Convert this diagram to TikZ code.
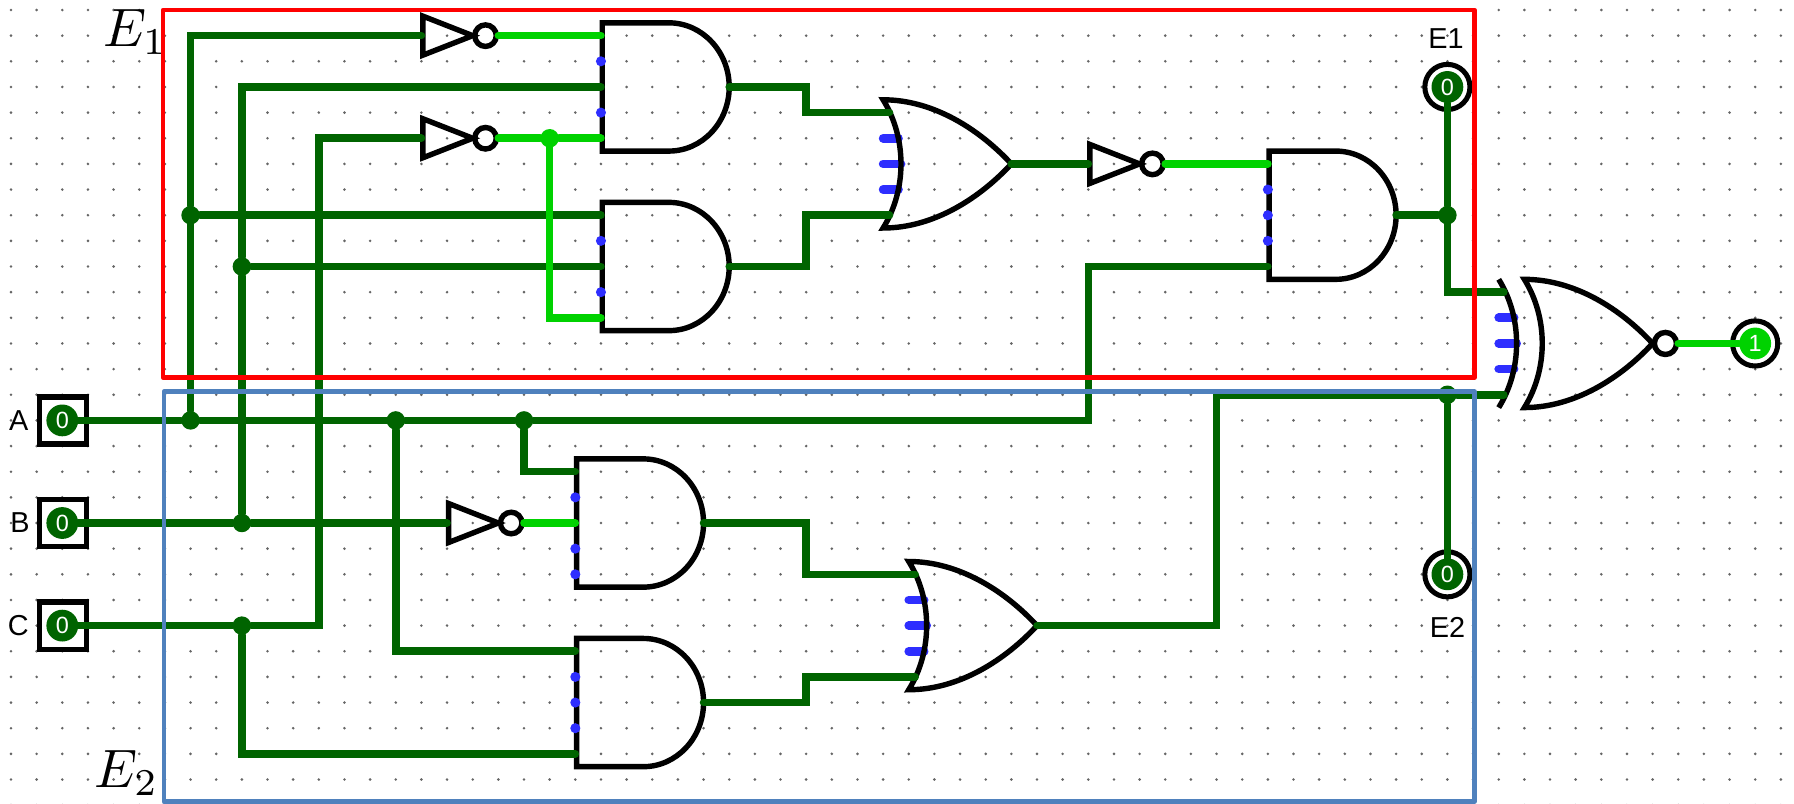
\documentclass[tikz,border=0pt]{standalone}
\usepackage{fontspec}
\setsansfont{Liberation Sans}
\usepackage{tikz}

\definecolor{wire_off}{HTML}{006400}
\definecolor{wire_on}{HTML}{00D200}
\definecolor{pin_blue}{HTML}{2E2EFF}
\definecolor{box_blue}{HTML}{4F81BD}

\begin{document}
\begin{tikzpicture}[x=0.5cm,y=-0.5cm,
    wire_dark/.style={wire_off,line width=4.2pt,line cap=round},
    wire_light/.style={wire_on,line width=4.2pt,line cap=round},
    outline/.style={black,line width=3pt},
    stub/.style={pin_blue,line width=4.8pt,line cap=round},
    junction_dark/.style={circle,fill=wire_off,inner sep=0pt,minimum size=0.36cm},
    junction_light/.style={circle,fill=wire_on,inner sep=0pt,minimum size=0.36cm},
    pin_box/.style={rectangle,draw,line width=3pt,inner sep=0pt,minimum size=0.92cm},
    pin_ring/.style={circle,draw,line width=2.8pt,inner sep=0pt,minimum size=0.88cm},
    pin_low/.style={circle,fill=wire_off,text=white,inner sep=0pt,minimum size=0.62cm,font=\sffamily\fontsize{13}{13}\selectfont},
    pin_high/.style={pin_low,fill=wire_on},
    pin_label/.style={inner sep=0pt,font=\sffamily\fontsize{16}{16}\selectfont},
    math_label/.style={inner sep=0pt,scale=3},
    and_gate/.pic={
        \draw[outline] (0.05,-2.5) -- (2.65,-2.5) .. controls (3.95,-2.5) and (5,-1.375) .. (5,0)
            .. controls (5,1.375) and (3.95,2.5) .. (2.65,2.5) -- (0.05,2.5) -- cycle;
        \coordinate (-a) at (0,-2);
        \coordinate (-b) at (0,-1);
        \coordinate (-c) at (0,0);
        \coordinate (-d) at (0,1);
        \coordinate (-e) at (0,2);
        \coordinate (-out) at (5,0);
    },
    or_gate/.pic={
        \draw[stub] (0,-1) -- (0.6,-1);
        \draw[stub] (0,0) -- (0.7,0);
        \draw[stub] (0,1) -- (0.6,1);
        \draw[outline] (0,-2.5) .. controls (0.93,-1) and (0.93,1) .. (0,2.5)
            .. controls (2,2.5) and (3.8,1.3) .. (5,0)
            .. controls (3.8,-1.3) and (2,-2.5) .. (0,-2.5) -- cycle;
        \coordinate (-a) at (0.25,-2);
        \coordinate (-e) at (0.25,2);
        \coordinate (-out) at (5,0);
    },
    xnor_gate/.pic={
        \draw[stub] (0,-1) -- (0.6,-1);
        \draw[stub] (0,0) -- (0.7,0);
        \draw[stub] (0,1) -- (0.6,1);
        \draw[outline] (0,-2.5) .. controls (0.93,-1) and (0.93,1) .. (0,2.5);
        \draw[outline] (1,-2.5) .. controls (1.93,-1) and (1.93,1) .. (1,2.5)
            .. controls (3,2.5) and (4.8,1.3) .. (6,0)
            .. controls (4.8,-1.3) and (3,-2.5) .. (1,-2.5) -- cycle;
        \draw[outline] (6.5,0) circle[radius=0.43];
        \coordinate (-a) at (0.2,-2);
        \coordinate (-e) at (0.2,2);
        \coordinate (-out) at (7,0);
    },
    not_gate/.pic={
        \draw[outline] (0.06,-0.76) -- (2,0) -- (0.06,0.76) -- cycle;
        \draw[outline] (2.5,0) circle[radius=0.42];
        \coordinate (-in) at (0,0);
        \coordinate (-out) at (3,0);
    }]
    \useasboundingbox (-0.429,-0.39) rectangle (69.513,30.955);

    \foreach \c in {0,...,69}
        \foreach \r in {0,...,31}
            \fill[black!60] (\c,\r) circle[radius=0.8pt];

    \pic (and1) at (23,3) {and_gate};
    \pic (and2) at (23,10) {and_gate};
    \pic (and3) at (49,8) {and_gate};
    \pic (and4) at (22,20) {and_gate};
    \pic (and5) at (22,27) {and_gate};
    \pic (or1) at (34,6) {or_gate};
    \pic (or2) at (35,24) {or_gate};
    \pic (xnor1) at (58,13) {xnor_gate};
    \pic (inv1) at (16,1) {not_gate};
    \pic (inv2) at (16,5) {not_gate};
    \pic (inv3) at (17,20) {not_gate};
    \pic (inv4) at (42,6) {not_gate};

    \node[pin_box] (A_box) at (2.03,16) {};
    \node[pin_box] (B_box) at (2.03,20) {};
    \node[pin_box] (C_box) at (2.03,24) {};
    \node[pin_low] (A) at (2,16) {0};
    \node[pin_low] (B) at (2,20) {0};
    \node[pin_low] (C) at (2,24) {0};
    \node[pin_label] (A_label) at (0.3,16) {A};
    \node[pin_label] (B_label) at (0.35,20) {B};
    \node[pin_label] (C_label) at (0.28,24) {C};

    \node[pin_ring] (E1_ring) at (56,3) {};
    \node[pin_ring] (E2_ring) at (56,22) {};
    \node[pin_ring] (F_ring) at (68,13) {};
    \node[pin_low] (E1) at (56,3) {0};
    \node[pin_low] (E2) at (56,22) {0};
    \node[pin_high] (F) at (68,13) {1};
    \node[pin_label] (E1_label) at (55.95,1.1) {E1};
    \node[pin_label] (E2_label) at (56,24.08) {E2};

    \node[math_label] (E1_math) at (4.85,0.87) {$E_1$};
    \node[math_label] (E2_math) at (4.5,29.75) {$E_2$};

    \node[junction_dark] (ja1) at (7,16) {};
    \node[junction_dark] (ja2) at (15,16) {};
    \node[junction_dark] (ja3) at (20,16) {};
    \node[junction_dark] (ja4) at (7,8) {};
    \node[junction_dark] (jb1) at (9,20) {};
    \node[junction_dark] (jb2) at (9,10) {};
    \node[junction_dark] (jc1) at (9,24) {};
    \node[junction_dark] (jf1) at (56,8) {};
    \node[junction_dark] (jf2) at (56,15) {};
    \node[junction_light] (jn1) at (21,5) {};

    \coordinate (a_bend) at (42,10);
    \coordinate (c_bend) at (12,5);
    \coordinate (s1_bend) at (31,4);
    \coordinate (s2_bend) at (31,8);
    \coordinate (s3_bend) at (31,22);
    \coordinate (s4_bend) at (31,26);
    \coordinate (s5_bend) at (47,15);

    \draw[wire_dark] (A) -- (ja1) -- (ja2) -- (ja3) -| (a_bend) -- (and3-e);
    \draw[wire_dark] (ja1) -- (ja4) |- (inv1-in);
    \draw[wire_dark] (ja4) -- (and2-a);
    \draw[wire_dark] (ja2) |- (and5-a);
    \draw[wire_dark] (ja3) |- (and4-a);
    \draw[wire_dark] (B) -- (jb1) -- (inv3-in);
    \draw[wire_dark] (jb1) -- (jb2) |- (and1-c);
    \draw[wire_dark] (jb2) -- (and2-c);
    \draw[wire_dark] (C) -- (jc1) -| (c_bend) -- (inv2-in);
    \draw[wire_dark] (jc1) |- (and5-e);
    \draw[wire_dark] (and1-out) -| (s1_bend) -- (or1-a);
    \draw[wire_dark] (and2-out) -| (s2_bend) -- (or1-e);
    \draw[wire_dark] (and4-out) -| (s3_bend) -- (or2-a);
    \draw[wire_dark] (and5-out) -| (s4_bend) -- (or2-e);
    \draw[wire_dark] (or1-out) -- (inv4-in);
    \draw[wire_dark] (and3-out) -- (jf1);
    \draw[wire_dark] (E1) -- (jf1) |- (xnor1-a);
    \draw[wire_dark] (or2-out) -| (s5_bend) -- (jf2) -- (xnor1-e);
    \draw[wire_dark] (E2) -- (jf2);

    \draw[wire_light] (inv1-out) -- (and1-a);
    \draw[wire_light] (inv2-out) -- (jn1) -- (and1-e);
    \draw[wire_light] (jn1) |- (and2-e);
    \draw[wire_light] (inv3-out) -- (and4-c);
    \draw[wire_light] (inv4-out) -- (and3-a);
    \draw[wire_light] (xnor1-out) -- (F);

    \foreach \p in {and1-b,and1-d,and2-b,and2-d,and3-b,and3-c,and3-d,and4-b,and4-d,and4-e,and5-b,and5-c,and5-d}
        \fill[pin_blue] (\p) circle[radius=2.8pt];

    \draw[red,line width=2.6pt,line join=round] (5.93,0) rectangle (57.05,14.33);
    \draw[box_blue,line width=2.6pt,line join=round] (5.96,14.88) rectangle (57.05,30.86);
\end{tikzpicture}
\end{document}
